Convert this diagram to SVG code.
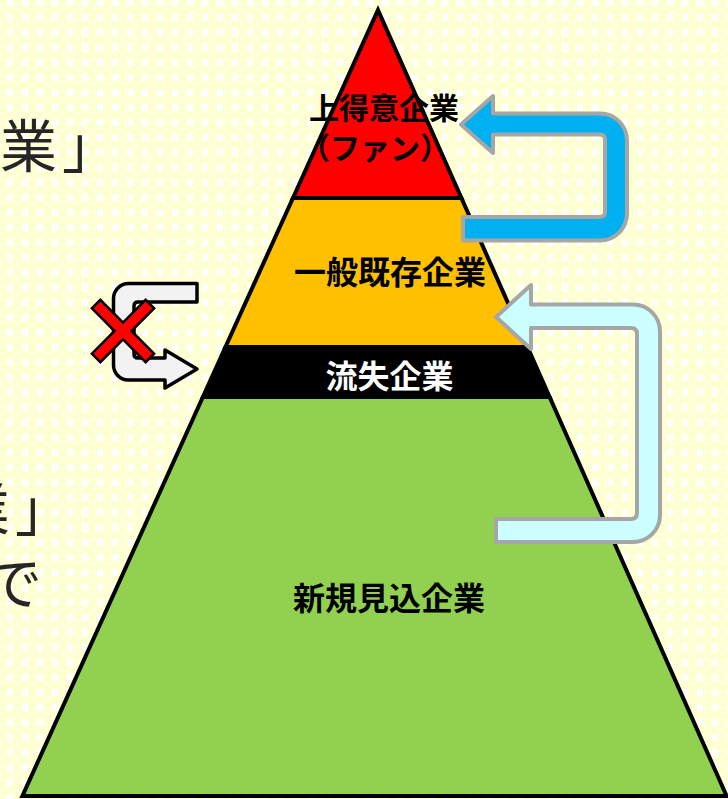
<svg xmlns="http://www.w3.org/2000/svg" width="728" height="799" viewBox="0 0 728 799">
  <defs>
    <pattern id="bg" x="7" y="14" width="15" height="15" patternUnits="userSpaceOnUse">
      <rect width="15" height="15" fill="#FFFFD4"/>
      <rect x="0" y="0" width="6" height="7" fill="#FFFFFF"/>
      <rect x="9" y="9" width="2" height="2" fill="#FFFFF0"/>
    </pattern>
    <style>
      .layer { stroke: #000; stroke-width: 4; stroke-linejoin: miter; }
      .lbl { font-family: "Noto Sans CJK JP", "Noto Sans", sans-serif; font-weight: 700; text-anchor: middle; }
      .bg-txt { font-family: "Noto Sans CJK JP", "Noto Sans", sans-serif; font-size: 57px; fill: #262626; letter-spacing: 5px; }
      .arrow-gray { stroke: #A6A6A6; stroke-width: 4; stroke-linejoin: round; }
    </style>
  </defs>
  <rect width="728" height="799" fill="url(#bg)"/>

  <g id="background-text">
    <text class="bg-txt" x="0" y="167">業」</text>
    <text class="bg-txt" x="-47" y="530">業」</text>
    <text class="bg-txt" x="-15" y="604">で</text>
  </g>

  <g id="layer-new">
    <polygon class="layer" points="202.9,397 549.6,397 726.6,796 22.4,796" fill="#92D050"/>
    <text class="lbl" x="389" y="610" font-size="32" fill="#000">新規見込企業</text>
  </g>
  <g id="layer-lost">
    <polygon class="layer" points="225.5,347 527.5,347 549.6,397 202.9,397" fill="#000000"/>
    <text class="lbl" x="389.5" y="388" font-size="32" fill="#FFFFFF">流失企業</text>
  </g>
  <g id="layer-existing">
    <polygon class="layer" points="293,198 461.4,198 527.5,347 225.5,347" fill="#FFC000"/>
    <text class="lbl" x="390" y="284" font-size="32" fill="#000">一般既存企業</text>
  </g>
  <g id="layer-top">
    <polygon class="layer" points="378,10 461.4,198 293,198" fill="#FF0000"/>
    <text class="lbl" x="384" y="119" font-size="30" fill="#000">上得意企業</text>
    <text class="lbl" x="375" y="159" font-size="30" fill="#000">（ファン）</text>
  </g>

  <g id="connectors">
    <path id="arrow-up-top" class="arrow-gray" fill="#00B0F0"
      d="M 461,124.5 L 493,96 L 493,113.5 L 600,113.5 A 27 27 0 0 1 627,140.5 L 627,213.5 A 27 27 0 0 1 600,240.5 L 463,240.5 L 463,217 L 600,217 Q 605,217 605,212 L 605,139.5 Q 605,134.5 600,134.5 L 493,134.5 L 493,153 Z"/>
    <path id="arrow-up-new" class="arrow-gray" fill="#CCFFFF"
      d="M 496,317 L 531,285 L 531,304.5 L 633,304.5 A 27 27 0 0 1 660,331.5 L 660,515 A 27 27 0 0 1 633,542 L 496,542 L 496,519 L 631,519 Q 637,519 637,513 L 637,334 Q 637,328 631,328 L 531,328 L 531,349 Z"/>
    <path id="arrow-lost" fill="#F2F2F2" stroke="#000" stroke-width="3.5" stroke-linejoin="round"
      d="M 197,283.5 L 197,302 L 138,302 Q 134,302 134,306 L 134,354 Q 134,358 138,358 L 165,358 L 165,350 L 197,369 L 165,388 L 165,380 L 128,380 A 15 15 0 0 1 113.5,365 L 113.5,298.5 A 15 15 0 0 1 128.5,283.5 Z"/>
    <path id="cross" fill="#FF0000" stroke="#000" stroke-width="2.5" stroke-linejoin="miter"
      transform="translate(123,331) rotate(45)"
      d="M 6,-38 L 6,-6 L 38,-6 L 38,6 L 6,6 L 6,38 L -6,38 L -6,6 L -38,6 L -38,-6 L -6,-6 L -6,-38 Z"/>
  </g>
</svg>
